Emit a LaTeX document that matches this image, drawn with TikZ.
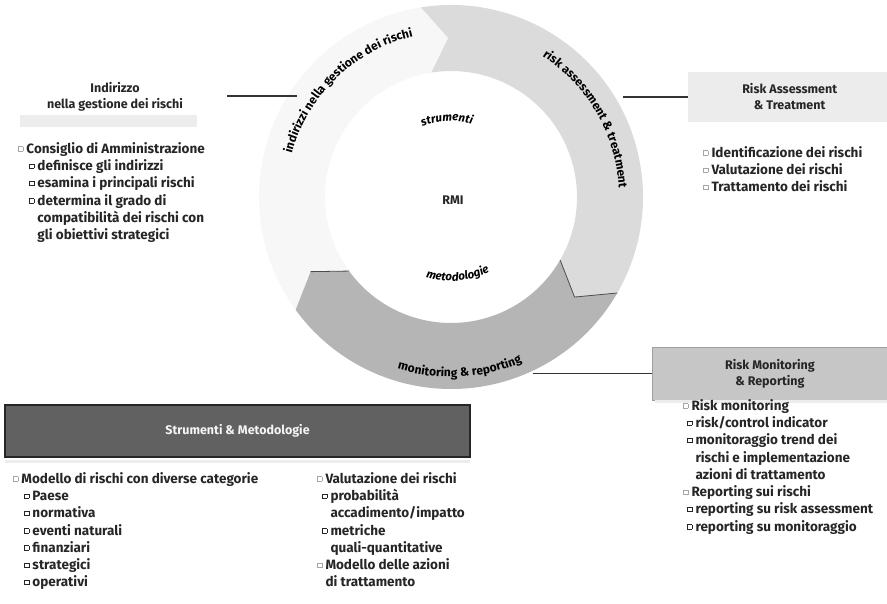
\documentclass[tikz,border=0pt]{standalone}
\usepackage{fontspec}
\setmainfont{Fira Sans}
\usetikzlibrary{decorations.text}
\newcommand\sqb{\raisebox{0.35ex}{\fboxsep=0pt\fboxrule=0.75pt\fbox{\rule{0pt}{3.6pt}\hspace{3.6pt}}}}
\newcommand\fb{\textcolor{gray!70}{\sqb}}
\newcommand\arcfont{\fontsize{12}{12}\selectfont\bfseries}
\newcommand\arcifont{\fontsize{11.5}{11.5}\selectfont\bfseries\itshape}
\begin{document}
\begin{tikzpicture}[x=1pt,y=1pt,
  txt/.style={font=\fontsize{13.5}{17.3}\selectfont\bfseries, align=left, inner sep=0pt, text=black!85, anchor=north west},
  hdr/.style={font=\fontsize{12.5}{16}\selectfont\bfseries, align=center, inner sep=0pt, text=black!85},
  link/.style={line width=1.3pt, draw=black!80},
  band/.style={fill=gray!14, draw=none}]
\useasboundingbox (0,0) rectangle (887,603);
\fill[white] (0,0) rectangle (887,603);

% ---------------- ring ----------------
\begin{scope}[shift={(451,406)}]
  \def\Ro{192}\def\Ri{126}\def\Rm{159}
  \fill[gray!6] (216:\Ro) arc[start angle=216,end angle=99,radius=\Ro] -- (91:\Rm) -- (99:\Ri)
     arc[start angle=99,end angle=216,radius=\Ri] -- (208:\Rm) -- cycle;
  \fill[gray!28] (99:\Ro) arc[start angle=99,end angle=-30,radius=\Ro] -- (-39:\Rm) -- (-30:\Ri)
     arc[start angle=-30,end angle=99,radius=\Ri] -- (91:\Rm) -- cycle;
  \fill[gray!58] (-30:\Ro) arc[start angle=-30,end angle=-144,radius=\Ro] -- (-152:\Rm) -- (-144:\Ri)
     arc[start angle=-144,end angle=-30,radius=\Ri] -- (-39:\Rm) -- cycle;
  \draw[black!70, line width=0.8pt] (-30:\Ri) -- (-39:\Rm) -- (-30:\Ro);
  \draw[black!70, line width=0.8pt] (-144:\Ri) -- (-152:\Rm);

  \path[decorate, decoration={text along path, text align=center,
     text={|\arcfont|indirizzi nella gestione dei rischi}}]
     (182:165) arc[start angle=182, end angle=86, radius=165];
  \path[decorate, decoration={text along path, text align=center,
     text={|\arcfont|risk assessment {\&} treatment}}]
     (67:168) arc[start angle=67, end angle=-7, radius=168];
  \path[decorate, decoration={text along path, text align=center,
     text={|\arcfont|monitoring {\&} reporting}}]
     (236:180) arc[start angle=236, end angle=310, radius=180];
  \path[decorate, decoration={text along path, text align=center,
     text={|\arcifont|strumenti}}]
     (125:76) arc[start angle=125, end angle=61, radius=76];
  \path[decorate, decoration={text along path, text align=center,
     text={|\arcifont|metodologie}}]
     (230:84) arc[start angle=230, end angle=320, radius=84];
\end{scope}
\node[hdr] (rmi) at (453,403) {RMI};

% ---------------- headers ----------------
\node[hdr] (hi) at (115,506) {Indirizzo\\nella gestione dei rischi};
\fill[band] (20,476) rectangle (197,488);

\node[hdr, fill=gray!15, minimum width=199pt, minimum height=50pt, anchor=west] (ra) at (688,506)
  {\hspace*{4pt}Risk Assessment\\\hspace*{4pt}\& Treatment};

\node[hdr, fill=gray!45, draw=gray!75, line width=0.8pt, minimum width=235pt, minimum height=53pt, anchor=west] (rm) at (652,229.5)
  {Risk Monitoring\\\& Reporting};
\fill[band] (655,200) rectangle (887,203);

\node[hdr, fill=black!62, draw=black!85, line width=1.2pt, text=gray!8, minimum width=465pt, minimum height=52pt] (sm) at (237.5,172)
  {Strumenti \& Metodologie};
\fill[band] (5,140) rectangle (470,143);

% ---------------- connectors ----------------
\coordinate (l1a) at (227,507);
\coordinate (l1b) at (297,507);
\coordinate (l2a) at (623,506);
\coordinate (l3a) at (533,229.5);
\draw[link] (l1a) -- (l1b);
\draw[link] (l2a) -- (ra.west);
\draw[link] (l3a) -- (rm.west);

% ---------------- lists ----------------
\node[txt] (li) at (18,461) {\fb\ Consiglio di Amministrazione\\
\hspace*{11pt}\sqb\ definisce gli indirizzi\\
\hspace*{11pt}\sqb\ esamina i principali rischi\\
\hspace*{11pt}\sqb\ determina il grado di\\
\hspace*{11pt}\phantom{\sqb\ }compatibilità dei rischi con\\
\hspace*{11pt}\phantom{\sqb\ }gli obiettivi strategici};

\node[txt] (lra) at (703,457) {\fb\ Identificazione dei rischi\\
\fb\ Valutazione dei rischi\\
\fb\ Trattamento dei rischi};

\node[txt] (lrm) at (683,204) {\fb\ Risk monitoring\\
\hspace*{4pt}\sqb\ risk/control indicator\\
\hspace*{4pt}\sqb\ monitoraggio trend dei\\
\hspace*{4pt}\phantom{\sqb\ }rischi e implementazione\\
\hspace*{4pt}\phantom{\sqb\ }azioni di trattamento\\
\fb\ Reporting sui rischi\\
\hspace*{4pt}\sqb\ reporting su risk assessment\\
\hspace*{4pt}\sqb\ reporting su monitoraggio};

\node[txt] (lsm) at (13,131) {\fb\ Modello di rischi con diverse categorie\\
\hspace*{11pt}\sqb\ Paese\\
\hspace*{11pt}\sqb\ normativa\\
\hspace*{11pt}\sqb\ eventi naturali\\
\hspace*{11pt}\sqb\ finanziari\\
\hspace*{11pt}\sqb\ strategici\\
\hspace*{11pt}\sqb\ operativi};

\node[txt] (lsv) at (317,131) {\fb\ Valutazione dei rischi\\
\hspace*{5pt}\sqb\ probabilità\\
\hspace*{5pt}\phantom{\sqb\ }accadimento/impatto\\
\hspace*{5pt}\sqb\ metriche\\
\hspace*{5pt}\phantom{\sqb\ }quali-quantitative\\
\fb\ Modello delle azioni\\
\phantom{\fb\ }di trattamento};
\end{tikzpicture}
\end{document}
